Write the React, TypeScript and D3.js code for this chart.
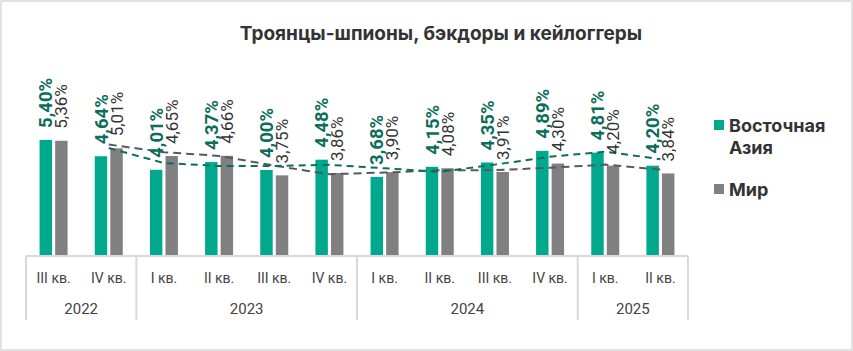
import { useEffect, useRef } from "react"
import * as d3 from "d3"

const quarters = ["III кв.", "IV кв.", "I кв.", "II кв.", "III кв.", "IV кв.", "I кв.", "II кв.", "III кв.", "IV кв.", "I кв.", "II кв."]
const years = ["2022", "2022", "2023", "2023", "2023", "2023", "2024", "2024", "2024", "2024", "2025", "2025"]
const eastAsia = [5.4, 4.64, 4.01, 4.37, 4.0, 4.48, 3.68, 4.15, 4.35, 4.89, 4.81, 4.2]
const world = [5.36, 5.01, 4.65, 4.66, 3.75, 3.86, 3.9, 4.08, 3.91, 4.3, 4.2, 3.84]
const seriesNames = ["Восточная Азия", "Мир"]

const GREEN = "#00a88e"
const GREEN_DARK = "#0b6e5a"
const GRAY = "#808080"
const TEXT = "#333333"
const LINE = "#d9d9d9"

const fmt = (v: number) => v.toFixed(2).replace(".", ",") + "%"

// Excel-style 2-period moving average
const movingAvg = (arr: number[]) =>
  arr.slice(1).map((v, i) => ({ i: i + 1, v: (v + arr[i]) / 2 }))

export default function App() {
  const ref = useRef<SVGSVGElement>(null)

  useEffect(() => {
    if (!ref.current) return
    const el = ref.current
    d3.select(el).selectAll("*").remove()

    const W = 853
    const H = 351
    const left = 26
    const right = 688
    const base = 256

    const svg = d3.select(el).attr("width", W).attr("height", H).attr("viewBox", `0 0 ${W} ${H}`)
    const font = "Roboto, 'Noto Sans', sans-serif"

    svg.append("rect")
      .attr("x", 1).attr("y", 1).attr("width", W - 2).attr("height", H - 2)
      .attr("fill", "#fff").attr("stroke", LINE).attr("stroke-width", 1.5)

    svg.append("text")
      .attr("x", 441).attr("y", 40)
      .attr("text-anchor", "middle")
      .attr("font-family", "Inter, sans-serif")
      .attr("font-weight", 700)
      .attr("font-size", 19)
      .attr("fill", TEXT)
      .text("Троянцы-шпионы, бэкдоры и кейлоггеры")

    const idx = quarters.map((_, i) => i)
    const x = d3.scaleBand<number>().domain(idx).range([left, right])
    const xs = d3.scaleBand<string>().domain(["a", "w"]).range([-14, 14]).paddingInner(0.2)
    const y = d3.scaleLinear().domain([0, 7]).range([base, base - 7 * 21.5])
    const cx = (i: number) => (x(i) ?? 0) + x.bandwidth() / 2

    const series = [
      { key: "a", values: eastAsia, color: GREEN },
      { key: "w", values: world, color: GRAY },
    ]

    const g = svg.append("g")
    series.forEach((s) => {
      g.selectAll(`rect.bar-${s.key}`)
        .data(s.values)
        .join("rect")
        .attr("x", (_, i) => cx(i) + (xs(s.key) ?? 0))
        .attr("y", (d) => y(d))
        .attr("width", xs.bandwidth())
        .attr("height", (d) => base - y(d))
        .attr("fill", s.color)
    })

    // moving-average trend lines
    const line = d3.line<{ i: number; v: number }>()
      .x((d) => cx(d.i))
      .y((d) => y(d.v))
    g.append("path")
      .datum(movingAvg(world))
      .attr("fill", "none").attr("stroke", "#595959").attr("stroke-width", 2)
      .attr("stroke-dasharray", "8,5").attr("d", line)
    g.append("path")
      .datum(movingAvg(eastAsia))
      .attr("fill", "none").attr("stroke", GREEN_DARK).attr("stroke-width", 2)
      .attr("stroke-dasharray", "7,5").attr("d", line)

    // value labels
    series.forEach((s) => {
      const bold = s.key === "a"
      g.selectAll(`text.lbl-${s.key}`)
        .data(s.values)
        .join("text")
        .attr("transform", (d, i) => {
          const bx = cx(i) + (xs(s.key) ?? 0) + xs.bandwidth() / 2
          return `translate(${bx},${y(d) - 12}) rotate(-90)`
        })
        .attr("dy", "0.36em")
        .attr("font-family", font)
        .attr("font-weight", bold ? 700 : 400)
        .attr("font-size", bold ? 18.5 : 17)
        .attr("fill", bold ? GREEN_DARK : TEXT)
        .text((d) => fmt(d))
    })

    // category axis
    const axis = svg.append("g")
    axis.append("line")
      .attr("x1", left).attr("x2", right).attr("y1", base).attr("y2", base)
      .attr("stroke", LINE).attr("stroke-width", 2)

    axis.selectAll("text.q")
      .data(quarters)
      .join("text")
      .attr("x", (_, i) => cx(i))
      .attr("y", 283)
      .attr("text-anchor", "middle")
      .attr("font-family", font)
      .attr("font-size", 14)
      .attr("fill", "#444")
      .text((d) => d)

    const groups = d3.groups(idx, (i) => years[i])
    const bounds: number[] = [left]
    groups.forEach(([yr, ids]) => {
      const x0 = x(ids[0]) ?? 0
      const x1 = (x(ids[ids.length - 1]) ?? 0) + x.bandwidth()
      bounds.push(x1)
      axis.append("text")
        .attr("x", (x0 + x1) / 2)
        .attr("y", 314)
        .attr("text-anchor", "middle")
        .attr("font-family", font)
        .attr("font-size", 15)
        .attr("fill", "#444")
        .text(yr)
    })
    axis.selectAll("line.div")
      .data(bounds)
      .join("line")
      .attr("x1", (d) => d).attr("x2", (d) => d)
      .attr("y1", base).attr("y2", 320)
      .attr("stroke", LINE).attr("stroke-width", 2)

    // legend
    const leg = svg.append("g").attr("font-family", "Inter, sans-serif").attr("font-weight", 700).attr("fill", TEXT)
    leg.append("rect").attr("x", 714).attr("y", 120).attr("width", 10).attr("height", 10).attr("fill", GREEN)
    const [w1, w2] = seriesNames[0].split(" ")
    leg.append("text").attr("x", 729).attr("y", 132).attr("font-size", 18).text(w1)
    leg.append("text").attr("x", 729).attr("y", 154).attr("font-size", 18).text(w2)
    leg.append("rect").attr("x", 714).attr("y", 184).attr("width", 10).attr("height", 10).attr("fill", GRAY)
    leg.append("text").attr("x", 729).attr("y", 196).attr("font-size", 18).text(seriesNames[1])
  }, [])

  return (
    <div style={{ position: "absolute", left: 0, top: 0 }}>
      <svg ref={ref} style={{ display: "block" }} />
    </div>
  )
}
